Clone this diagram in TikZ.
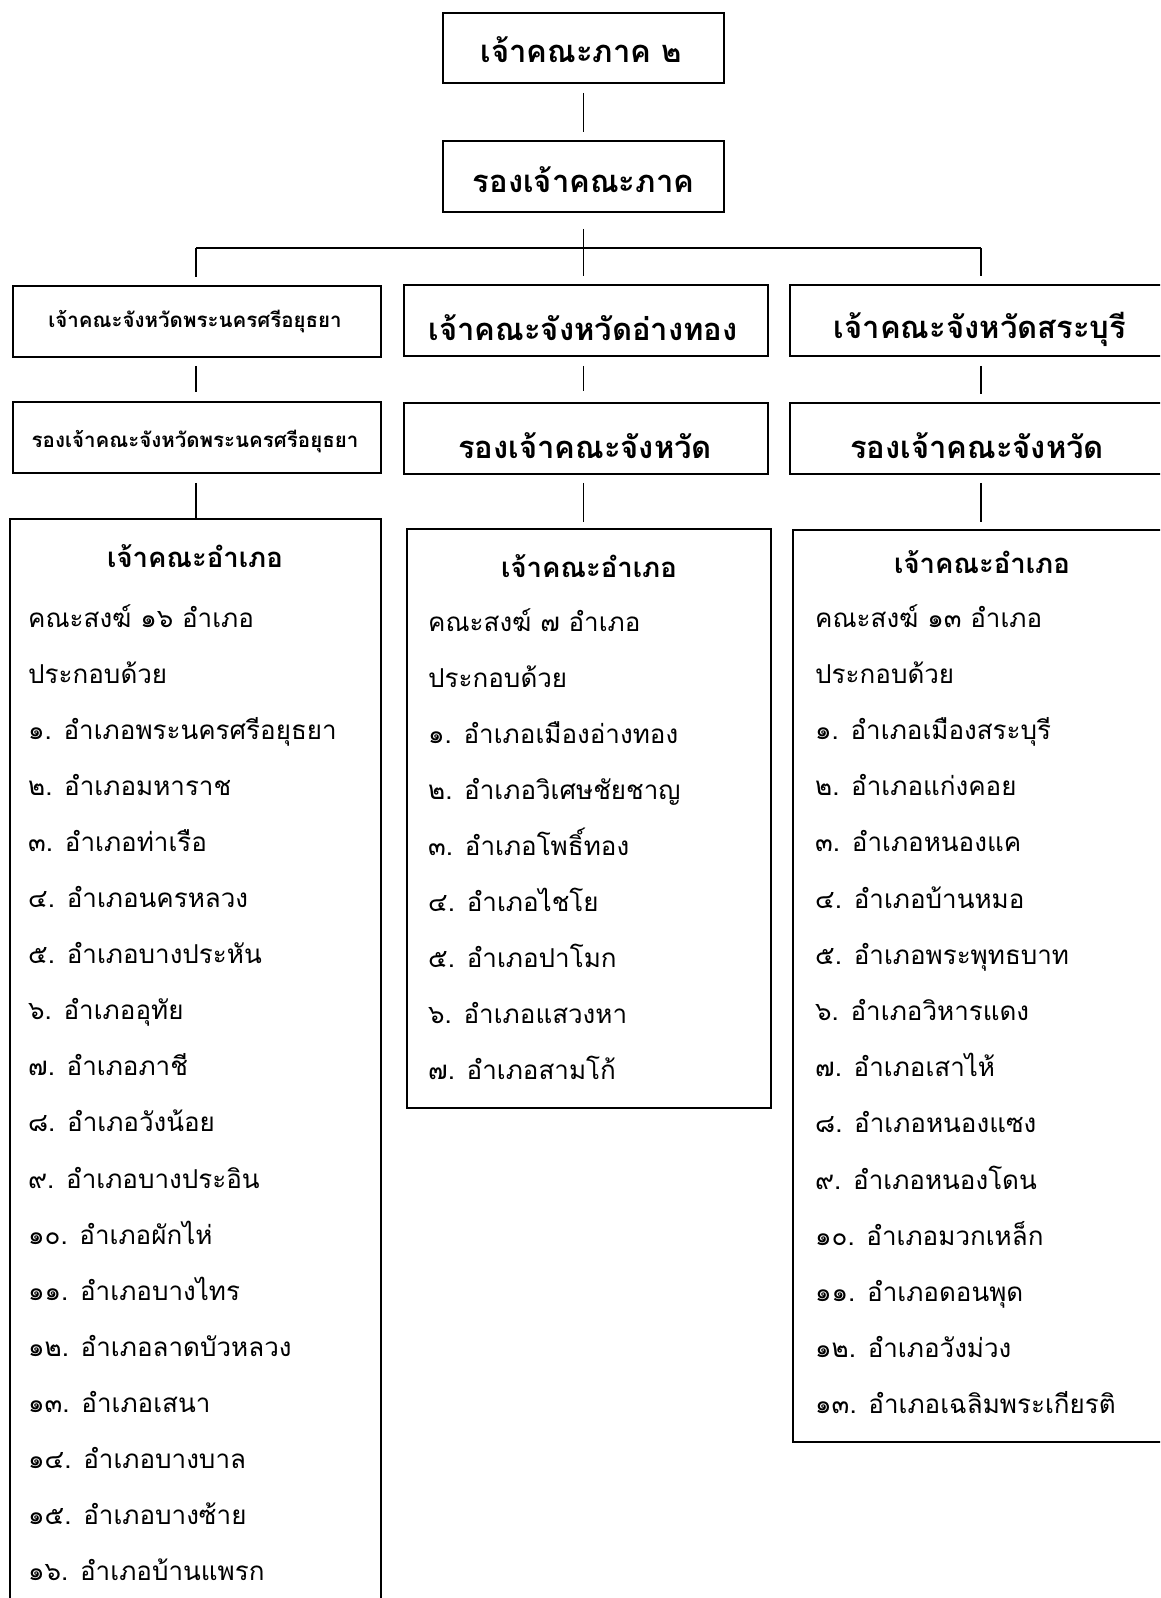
\documentclass[tikz,border=0pt]{standalone}
\usepackage{fontspec}
\newfontfamily\thai[Script=Thai]{Loma}
\begin{document}
\begin{tikzpicture}[x=1pt,y=-1pt,
  box/.style={draw,line width=1.9pt,rectangle,inner sep=0pt,fill=white},
  conn/.style={line width=1.6pt},
  tbig/.style={font=\thai\bfseries\fontsize{31}{34}\selectfont,inner sep=0pt,anchor=base},
  tsmall/.style={font=\thai\bfseries\fontsize{20.5}{24}\selectfont,inner sep=0pt,anchor=base},
  thead/.style={font=\thai\bfseries\fontsize{27.5}{31}\selectfont,inner sep=0pt,anchor=base},
  titem/.style={font=\thai\fontsize{26}{30}\selectfont,inner sep=0pt,anchor=base west}]
\clip (0,0) rectangle (1160,1598);
\fill[white] (0,0) rectangle (1160,1598);
% boxes
\node[box,minimum width=281pt,minimum height=70pt] (top) at (583.5,48) {};
\node[box,minimum width=281pt,minimum height=71pt] (sub) at (583.5,176.5) {};
\node[box,minimum width=368pt,minimum height=71pt] (L1) at (197,321.5) {};
\node[box,minimum width=364pt,minimum height=71pt] (M1) at (586,320.5) {};
\node[box,minimum width=382pt,minimum height=71pt] (R1) at (981,320.5) {};
\node[box,minimum width=368pt,minimum height=71pt] (L2) at (197,437.5) {};
\node[box,minimum width=364pt,minimum height=71pt] (M2) at (586,438.5) {};
\node[box,minimum width=382pt,minimum height=71pt] (R2) at (981,438.5) {};
\node[box,minimum width=371pt,minimum height=1120pt] (L3) at (195.5,1079) {};
\node[box,minimum width=364pt,minimum height=579pt] (M3) at (589,818.5) {};
\node[box,minimum width=378pt,minimum height=912pt] (R3) at (982,986) {};
% connectors
\coordinate (barL) at (196,248);
\coordinate (barR) at (981,248);
\draw[conn] (barL) -- (barR);
\draw[conn,shorten <=9pt,shorten >=8pt] (top.south) -- (sub.north);
\draw[conn,shorten <=16pt] (sub.south) -- (sub.south |- barL);
\draw[conn,shorten >=8pt] (barL) -- (barL |- L1.north);
\draw[conn,shorten >=8pt] (sub.south |- barL) -- (sub.south |- M1.north);
\draw[conn,shorten >=8pt] (barR) -- (barR |- R1.north);
\draw[conn,shorten <=8pt,shorten >=9pt] (barL |- L1.south) -- (barL |- L2.north);
\draw[conn,shorten <=9pt,shorten >=11pt] (sub.south |- M1.south) -- (sub.south |- M2.north);
\draw[conn,shorten <=9pt,shorten >=8pt] (barR |- R1.south) -- (barR |- R2.north);
\draw[conn,shorten <=9pt] (barL |- L2.south) -- (barL |- L3.north);
\draw[conn,shorten <=8pt,shorten >=6pt] (sub.south |- M2.south) -- (sub.south |- M3.north);
\draw[conn,shorten <=8pt,shorten >=7pt] (barR |- R2.south) -- (barR |- R3.north);
% box texts
\node[tbig] (topt) at (581.5,62) {เจ้าคณะภาค ๒};
\node[tbig] (subt) at (583.5,192) {รองเจ้าคณะภาค};
\node[tsmall] (L1t) at (195,327) {เจ้าคณะจังหวัดพระนครศรีอยุธยา};
\node[tsmall] (L2t) at (195,447) {รองเจ้าคณะจังหวัดพระนครศรีอยุธยา};
\node[tbig] (M1t) at (583,340) {เจ้าคณะจังหวัดอ่างทอง};
\node[tbig] (M2t) at (585,458) {รองเจ้าคณะจังหวัด};
\node[tbig] (R1t) at (980,338) {เจ้าคณะจังหวัดสระบุรี};
\node[tbig] (R2t) at (977,458) {รองเจ้าคณะจังหวัด};
% list headings
\node[thead] (L3h) at (195,567) {เจ้าคณะอำเภอ};
\node[thead] (M3h) at (589,577) {เจ้าคณะอำเภอ};
\node[thead] (R3h) at (982,573) {เจ้าคณะอำเภอ};
% left list
\foreach \t [count=\i from 0] in {คณะสงฆ์ ๑๖ อำเภอ,ประกอบด้วย,๑. อำเภอพระนครศรีอยุธยา,๒. อำเภอมหาราช,๓. อำเภอท่าเรือ,๔. อำเภอนครหลวง,๕. อำเภอบางประหัน,๖. อำเภออุทัย,๗. อำเภอภาชี,๘. อำเภอวังน้อย,๙. อำเภอบางประอิน,๑๐. อำเภอผักไห่,๑๑. อำเภอบางไทร,๑๒. อำเภอลาดบัวหลวง,๑๓. อำเภอเสนา,๑๔. อำเภอบางบาล,๑๕. อำเภอบางซ้าย,๑๖. อำเภอบ้านแพรก}
  \node[titem] (Li\i) at (28,{627+56.1*\i}) {\t};
% middle list
\foreach \t [count=\i from 0] in {คณะสงฆ์ ๗ อำเภอ,ประกอบด้วย,๑. อำเภอเมืองอ่างทอง,๒. อำเภอวิเศษชัยชาญ,๓. อำเภอโพธิ์ทอง,๔. อำเภอไชโย,๕. อำเภอปาโมก,๖. อำเภอแสวงหา,๗. อำเภอสามโก้}
  \node[titem] (Mi\i) at (428,{631+56.1*\i}) {\t};
% right list
\foreach \t [count=\i from 0] in {คณะสงฆ์ ๑๓ อำเภอ,ประกอบด้วย,๑. อำเภอเมืองสระบุรี,๒. อำเภอแก่งคอย,๓. อำเภอหนองแค,๔. อำเภอบ้านหมอ,๕. อำเภอพระพุทธบาท,๖. อำเภอวิหารแดง,๗. อำเภอเสาไห้,๘. อำเภอหนองแซง,๙. อำเภอหนองโดน,๑๐. อำเภอมวกเหล็ก,๑๑. อำเภอดอนพุด,๑๒. อำเภอวังม่วง,๑๓. อำเภอเฉลิมพระเกียรติ}
  \node[titem] (Ri\i) at (815,{627+56.2*\i}) {\t};
\end{tikzpicture}
\end{document}
